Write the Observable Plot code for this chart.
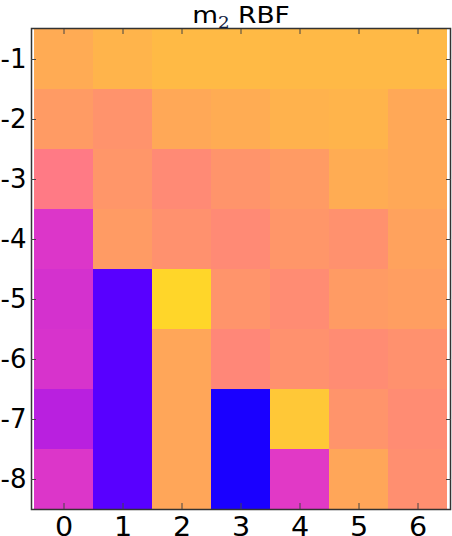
<!DOCTYPE html>
<html>
<head>
<meta charset="utf-8">
<script src="https://cdn.jsdelivr.net/npm/d3@7"></script>
<script src="https://cdn.jsdelivr.net/npm/@observablehq/plot@0.6"></script>
<style>
  html, body { margin: 0; padding: 0; background: white; }
</style>
</head>
<body>
<div id="chart"></div>
<script>
// Column categories (x) and row categories (y)
const cols = [0, 1, 2, 3, 4, 5, 6];
const rows = [-1, -2, -3, -4, -5, -6, -7, -8];
const titleMain = "m";
const titleSub = "2";
const titleRest = " RBF";

// Cell values (position on the gnuplot2 colour map), one array per row
const rowM1 = [0.755, 0.773, 0.785, 0.785, 0.782, 0.782, 0.782];
const rowM2 = [0.724, 0.708, 0.750, 0.757, 0.769, 0.773, 0.750];
const rowM3 = [0.660, 0.714, 0.690, 0.710, 0.724, 0.757, 0.750];
const rowM4 = [0.526, 0.724, 0.704, 0.690, 0.714, 0.704, 0.738];
const rowM5 = [0.516, 0.360, 0.840, 0.710, 0.695, 0.724, 0.730];
const rowM6 = [0.520, 0.360, 0.745, 0.685, 0.704, 0.695, 0.704];
const rowM7 = [0.482, 0.360, 0.745, 0.283, 0.812, 0.710, 0.695];
const rowM8 = [0.526, 0.360, 0.745, 0.283, 0.532, 0.745, 0.700];
const values = [rowM1, rowM2, rowM3, rowM4, rowM5, rowM6, rowM7, rowM8];

const data = [];
rows.forEach((r, i) => cols.forEach((c, j) => data.push({row: r, col: c, v: values[i][j]})));

// matplotlib "gnuplot2" colour map
function gnuplot2(t) {
  const cl = v => Math.max(0, Math.min(1, v));
  const r = cl(t / 0.32 - 0.78125);
  const g = cl(2 * t - 0.84);
  let b;
  if (t < 0.25) b = 4 * t;
  else if (t < 0.42) b = 1;
  else if (t < 0.92) b = -2 * t + 1.84;
  else b = t / 0.08 - 11.5;
  b = cl(b);
  return `rgb(${Math.round(r * 255)},${Math.round(g * 255)},${Math.round(b * 255)})`;
}

const chart = Plot.plot({
  width: 452,
  height: 536,
  marginLeft: 31,
  marginRight: 2,
  marginTop: 28,
  marginBottom: 27,
  style: {fontFamily: "DejaVu Sans", fontSize: "26px", background: "white", color: "black"},
  x: {type: "band", domain: cols, padding: 0, label: null},
  y: {type: "band", domain: rows, padding: 0, label: null},
  color: {type: "linear", domain: [0, 1], interpolate: gnuplot2},
  marks: [
    Plot.cell(data, {x: "col", y: "row", fill: "v", inset: 0, shapeRendering: "crispEdges"}),
    Plot.frame({stroke: "#333", strokeWidth: 1.5}),
    Plot.axisX({anchor: "bottom", tickSize: -6, tickPadding: 14, stroke: "#444", fontSize: 26, label: null}),
    Plot.axisX({anchor: "top", tickSize: -5, tickFormat: () => "", stroke: "#444", label: null}),
    Plot.axisY({anchor: "left", tickSize: -5, tickPadding: 10, stroke: "#444", fontSize: 26, tickFormat: d => String(d), label: null}),
    Plot.axisY({anchor: "right", tickSize: -5, tickFormat: () => "", stroke: "#444", label: null}),
    Plot.text([titleMain + titleSub + titleRest], {frameAnchor: "top", dy: -6, lineAnchor: "bottom", fontSize: 23, fill: "black"})
  ]
});

// Slight horizontal widening of texts, as in the reference
function widen(el, s) {
  const x = el.getAttribute("x");
  const t = el.getAttribute("transform") || "";
  if (x !== null) {
    el.setAttribute("x", 0);
    el.setAttribute("transform", `${t} translate(${x},0) scale(${s},1)`);
  } else {
    el.setAttribute("transform", `${t} scale(${s},1)`);
  }
}
chart.querySelectorAll('g[aria-label="x-axis tick label"] text')
  .forEach(el => { if (el.textContent !== "") widen(el, 1.1); });

const titleEl = Array.from(chart.querySelectorAll("text"))
  .find(el => el.textContent === titleMain + titleSub + titleRest);
if (titleEl) {
  titleEl.textContent = "";
  const ns = "http://www.w3.org/2000/svg";
  const a = document.createElementNS(ns, "tspan"); a.textContent = titleMain;
  const b = document.createElementNS(ns, "tspan"); b.textContent = titleSub;
  b.setAttribute("dy", "5"); b.setAttribute("font-size", "16"); b.setAttribute("font-family", "DejaVu Serif"); b.setAttribute("fill", "#102040");
  const c = document.createElementNS(ns, "tspan"); c.textContent = titleRest; c.setAttribute("dy", "-5");
  titleEl.append(a, b, c);
  widen(titleEl, 1.15);
}
document.getElementById("chart").appendChild(chart);
</script>
</body>
</html>
